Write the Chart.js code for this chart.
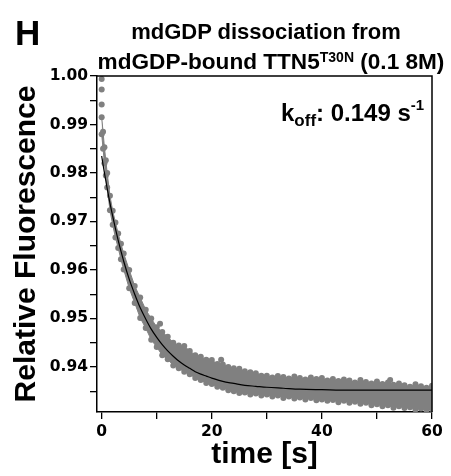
<!DOCTYPE html>
<html>
<head>
<meta charset="utf-8">
<script src="https://cdn.jsdelivr.net/npm/chart.js@4.4.1/dist/chart.umd.min.js"></script>
<style>
  body { margin: 0; background: #fff; }
  #wrap { position: relative; width: 451px; height: 476px; }
  .lbl { position: absolute; font-family: "Liberation Sans", Arial, sans-serif; font-weight: bold; color: #000; line-height: 1; white-space: nowrap; }
</style>
</head>
<body>
<div id="wrap">
  <canvas id="chart"></canvas>
  <div class="lbl" style="left:15px; top:15px; font-size:35px;">H</div>
  <div class="lbl" style="left:266px; top:21px; font-size:22px; transform:translateX(-50%);">mdGDP dissociation from</div>
  <div class="lbl" style="left:271px; top:51px; font-size:22.6px; transform:translateX(-50%);">mdGDP-bound TTN5<span style="font-size:14px; position:relative; top:-7px;">T30N</span> (0.1 8M)</div>
  <div class="lbl" style="left:281px; top:101px; font-size:24px;">k<span style="font-size:17px; position:relative; top:5px;">off</span>: 0.149 s<span style="font-size:15px; position:relative; top:-11px;">-1</span></div>
</div>
<script>
// measured band of data points (upper / lower edge of the grey cloud)
var bandTime = [0, 0.25, 0.5, 0.75, 1, 1.5, 2, 2.5, 3, 3.5, 4,
  5, 6, 7, 8, 9, 10, 11, 12, 13, 14, 15, 16, 17, 18, 19, 20,
  21, 22, 23, 24, 25, 26, 27, 28, 29, 30, 31, 32, 33, 34, 35, 36, 37, 38, 39, 40,
  41, 42, 43, 44, 45, 46, 47, 48, 49, 50, 51, 52, 53, 54, 55, 56, 57, 58, 59, 60];
var bandUpper = [0.9915, 0.9885, 0.9853, 0.9826, 0.9800, 0.9753, 0.9722, 0.9698, 0.9675, 0.9654, 0.9634,
  0.9600, 0.9567, 0.9543, 0.9518, 0.9500, 0.9482, 0.9472, 0.9462, 0.9450, 0.9444, 0.9443, 0.9433, 0.9424, 0.9421, 0.9415, 0.9414,
  0.9406, 0.9405, 0.9400, 0.9397, 0.9396, 0.9391, 0.9389, 0.9387, 0.9382, 0.9382, 0.9378, 0.9381, 0.9379, 0.9376, 0.9380, 0.9377, 0.9374, 0.9378, 0.9375, 0.9377,
  0.9372, 0.9375, 0.9371, 0.9374, 0.9372, 0.9368, 0.9373, 0.9369, 0.9366, 0.9370, 0.9365, 0.9368, 0.9363, 0.9366, 0.9362, 0.9359, 0.9364, 0.9360, 0.9357, 0.9361];
var bandLower = [0.9880, 0.9850, 0.9820, 0.9795, 0.9770, 0.9723, 0.9693, 0.9667, 0.9645, 0.9622, 0.9601,
  0.9562, 0.9532, 0.9501, 0.9480, 0.9456, 0.9441, 0.9424, 0.9416, 0.9403, 0.9397, 0.9390, 0.9385, 0.9377, 0.9373, 0.9367, 0.9365,
  0.9359, 0.9357, 0.9352, 0.9350, 0.9346, 0.9347, 0.9343, 0.9345, 0.9341, 0.9343, 0.9339, 0.9341, 0.9336, 0.9339, 0.9335, 0.9337, 0.9333, 0.9336, 0.9331, 0.9333,
  0.9330, 0.9332, 0.9327, 0.9330, 0.9326, 0.9328, 0.9324, 0.9326, 0.9321, 0.9323, 0.9319, 0.9321, 0.9316, 0.9319, 0.9315, 0.9317, 0.9312, 0.9314, 0.9311, 0.9313];

// stray points outside the band
var extraTime = [0, 0, 0, 10.6, 21.7, 52.4];
var extraValue = [0.9994, 0.9972, 0.9941, 0.9489, 0.9415, 0.9373];

// fitted curve
var fitTime = [0, 0.25, 0.5, 0.75, 1, 1.5, 2, 2.5, 3, 3.5, 4, 5, 6, 7, 8, 9, 10, 11, 12, 13, 14, 15, 16, 17, 18, 19, 20,
  22, 24, 26, 28, 30, 33, 36, 40, 45, 50, 55, 60];
var fitValue = [0.9835, 0.9817, 0.9800, 0.9784, 0.9768, 0.9738, 0.9711, 0.9685, 0.9661, 0.9639, 0.9618, 0.9581, 0.9550, 0.9522,
  0.9499, 0.9478, 0.9461, 0.9446, 0.9433, 0.9422, 0.9412, 0.9404, 0.9397, 0.9390, 0.9385, 0.9381, 0.9377,
  0.9370, 0.9366, 0.9362, 0.9360, 0.9358, 0.9356, 0.9354, 0.9353, 0.9352, 0.9352, 0.9352, 0.9352];

// tick marks (all) and the ones that get a label
var xTickMarks = [0, 10, 20, 30, 40, 50, 60];
var xTickLabels = [0, 20, 40, 60];
var yTickMarks = [0.935, 0.94, 0.945, 0.95, 0.955, 0.96, 0.965, 0.97, 0.975, 0.98, 0.985, 0.99, 0.995, 1.00];
var yTickLabels = [0.94, 0.95, 0.96, 0.97, 0.98, 0.99, 1.00];

function pts(xs, ys) {
    return xs.map(function (x, i) { return { x: x, y: ys[i] }; });
}

function inList(list, v) {
    for (var i = 0; i < list.length; i++) {
        if (Math.abs(list[i] - v) < 1e-6) return true;
    }
    return false;
}

var dotGrey = 'rgb(128,128,128)';

var boxPlugin = {
    id: 'box',
    afterDraw: function (chart) {
        var a = chart.chartArea, ctx = chart.ctx;
        ctx.save();
        ctx.strokeStyle = '#000';
        ctx.lineWidth = 1.5;
        ctx.beginPath();
        ctx.moveTo(a.left, a.top);
        ctx.lineTo(a.right, a.top);
        ctx.lineTo(a.right, a.bottom);
        ctx.stroke();
        ctx.restore();
    }
};

var tickFont = { family: 'DejaVu Sans', weight: 'bold', size: 15.5 };
var titleFont = { family: 'Liberation Sans', weight: 'bold', size: 30 };

new Chart(document.getElementById('chart'), {
    type: 'line',
    data: {
        datasets: [
            {
                data: pts(fitTime, fitValue),
                borderColor: '#000',
                borderWidth: 1.2,
                pointRadius: 0,
                fill: false,
                cubicInterpolationMode: 'monotone',
                order: 0
            },
            {
                data: pts(bandTime, bandUpper),
                borderColor: dotGrey,
                borderWidth: 1,
                backgroundColor: dotGrey,
                pointRadius: 3,
                pointBorderWidth: 0,
                fill: '+1',
                order: 2
            },
            {
                data: pts(bandTime, bandLower),
                borderColor: dotGrey,
                borderWidth: 1,
                backgroundColor: dotGrey,
                pointRadius: 3,
                pointBorderWidth: 0,
                fill: false,
                order: 2
            },
            {
                data: pts(extraTime, extraValue),
                showLine: false,
                backgroundColor: dotGrey,
                pointRadius: 3,
                pointBorderWidth: 0,
                order: 1
            }
        ]
    },
    options: {
        responsive: true,
        maintainAspectRatio: false,
        animation: false,
        layout: { padding: { left: 0, top: 76, right: 19, bottom: 0 } },
        plugins: { legend: { display: false }, tooltip: { enabled: false } },
        scales: {
            x: {
                type: 'linear',
                min: -0.85,
                max: 60,
                afterFit: function (s) { s.height = 64; },
                afterBuildTicks: function (s) {
                    s.ticks = xTickMarks.map(function (v) { return { value: v }; });
                },
                ticks: {
                    autoSkip: false,
                    maxRotation: 0,
                    padding: 4,
                    color: '#000',
                    font: tickFont,
                    callback: function (v) { return inList(xTickLabels, v) ? String(v) : ''; }
                },
                grid: { drawOnChartArea: false, tickLength: 7, color: '#000', lineWidth: 1.3 },
                border: { color: '#000', width: 1.5 },
                title: { display: true, text: 'time [s]', color: '#000', font: titleFont, padding: { top: 0, bottom: 3 } }
            },
            y: {
                min: 0.9307,
                max: 1.0,
                afterFit: function (s) { s.width = 97; },
                afterBuildTicks: function (s) {
                    s.ticks = yTickMarks.map(function (v) { return { value: v }; });
                },
                ticks: {
                    autoSkip: false,
                    padding: 2,
                    color: '#000',
                    font: tickFont,
                    callback: function (v) { return inList(yTickLabels, v) ? v.toFixed(2) : ''; }
                },
                grid: { drawOnChartArea: false, tickLength: 7, color: '#000', lineWidth: 1.3 },
                border: { color: '#000', width: 1.5 },
                title: { display: true, text: 'Relative Fluorescence', color: '#000', font: titleFont, padding: { top: 9, bottom: 0 } }
            }
        }
    },
    plugins: [boxPlugin]
});
</script>
</body>
</html>
